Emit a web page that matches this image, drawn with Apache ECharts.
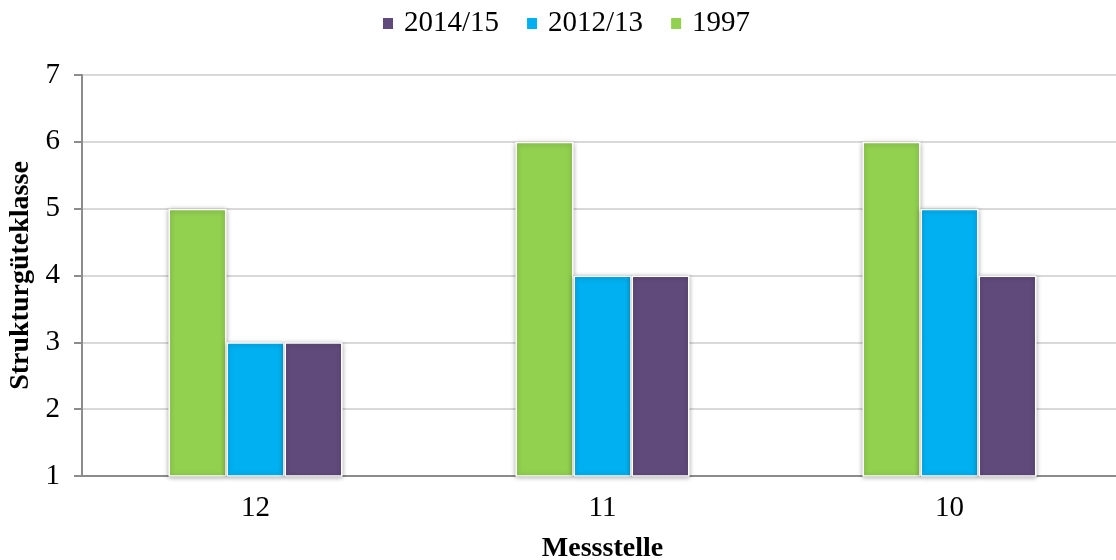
<!DOCTYPE html>
<html>
<head>
<meta charset="utf-8">
<script src="https://cdn.jsdelivr.net/npm/echarts@6/dist/echarts.min.js"></script>
<style>
  html, body { margin: 0; padding: 0; background: #ffffff; overflow: hidden; }
  #chart { width: 1116px; height: 560px; }
</style>
</head>
<body>
<div id="chart"></div>
<script>
// Measuring stations and structural quality class per survey
const stations = ['12', '11', '10'];
const values1997 = [5, 6, 6];
const values2012 = [3, 4, 5];
const values2014 = [3, 4, 4];
const legendOrder = ['2014/15', '2012/13', '1997'];

const FONT = '"Liberation Serif", "DejaVu Serif", serif';

const barStyle = (color) => ({
  color: color,
  borderColor: '#ffffff',
  borderWidth: 1.5,
  shadowColor: 'rgba(0,0,0,0.3)',
  shadowBlur: 5,
  shadowOffsetX: 0,
  shadowOffsetY: 1
});

const chart = echarts.init(document.getElementById('chart'));
chart.setOption({
  animation: false,
  legend: {
    data: legendOrder,
    top: 4,
    left: 376,
    itemWidth: 12,
    itemHeight: 13,
    itemGap: 26,
    icon: 'rect',
    textStyle: { fontFamily: FONT, fontSize: 29, color: '#000000', padding: [0, 0, 0, 5] }
  },
  // plot area fixed in pixels; labels may sit close to the canvas edge
  grid: { left: 82, right: -7, top: 75, bottom: 84, outerBoundsMode: 'none', containLabel: false },
  xAxis: {
    type: 'category',
    data: stations,
    name: 'Messstelle',
    nameLocation: 'middle',
    nameGap: 59,
    nameTextStyle: { fontFamily: FONT, fontSize: 28, fontWeight: 'bold', color: '#000000' },
    axisLine: { lineStyle: { color: '#8c8c8c', width: 2 } },
    axisTick: { show: false },
    axisLabel: { fontFamily: FONT, fontSize: 29, color: '#000000', margin: 18 }
  },
  yAxis: {
    type: 'value',
    min: 1,
    max: 7,
    interval: 1,
    name: 'Strukturgüteklasse',
    nameLocation: 'middle',
    nameGap: 47,
    nameTextStyle: { fontFamily: FONT, fontSize: 28, fontWeight: 'bold', color: '#000000' },
    axisLine: { show: true, lineStyle: { color: '#8c8c8c', width: 2 } },
    axisTick: { show: true, length: 8, lineStyle: { color: '#8c8c8c', width: 2 } },
    axisLabel: { fontFamily: FONT, fontSize: 29, color: '#000000', margin: 22 },
    splitLine: { lineStyle: { color: '#d9d9d9', width: 2 } }
  },
  series: [
    { name: '1997', type: 'bar', data: values1997, barWidth: 58, barGap: '0%', itemStyle: barStyle('#92D050') },
    { name: '2012/13', type: 'bar', data: values2012, barWidth: 58, barGap: '0%', itemStyle: barStyle('#00B0F0') },
    { name: '2014/15', type: 'bar', data: values2014, barWidth: 58, barGap: '0%', itemStyle: barStyle('#604A7B') }
  ]
});
</script>
</body>
</html>
